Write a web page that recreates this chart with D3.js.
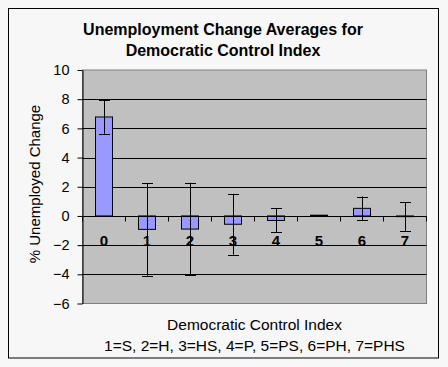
<!DOCTYPE html>
<html><head><meta charset="utf-8">
<script src="https://cdn.jsdelivr.net/npm/d3@7/dist/d3.min.js"></script>
<style>
html,body{margin:0;padding:0;background:#f7f7f7;}
svg{display:block;font-family:"Liberation Sans",Arial,sans-serif;}
</style></head><body>
<svg id="c" width="448" height="367"></svg>
<script>
const categories = ["0","1","2","3","4","5","6","7"];
const values = [6.78, -0.92, -0.90, -0.57, -0.31, 0.05, 0.52, -0.05];
const errors = [1.15, 3.17, 3.17, 2.08, 0.82, 0, 0.81, 0.98];
const yTicks = [-6,-4,-2,0,2,4,6,8,10];
const titleLines = ["Unemployment Change Averages for","Democratic Control Index"];
const xTitleLines = ["Democratic Control Index","1=S, 2=H, 3=HS, 4=P, 5=PS, 6=PH, 7=PHS"];
const yTitle = "% Unemployed Change";

const svg = d3.select("#c");
const L = 82.5, R = 426.5, T = 70, B = 303.5;

svg.append("rect").attr("x",8.5).attr("y",8.5).attr("width",430).attr("height",349.5)
  .attr("fill","#f7f7f7").attr("stroke","#000").attr("stroke-width",1);

const x = d3.scaleBand().domain(categories).range([L,R]).paddingInner(0).paddingOuter(0);
const y = d3.scaleLinear().domain([-6,10]).range([B,T]);

svg.append("rect").attr("x",L).attr("y",T).attr("width",R-L).attr("height",B-T)
  .attr("fill","#c0c0c0").attr("stroke","#808080").attr("stroke-width",1);

// gridlines
svg.append("g").selectAll("line").data(yTicks.filter(d=>d!==-6 && d!==10)).join("line")
  .attr("x1",L).attr("x2",R).attr("y1",d=>Math.round(y(d))+0.5).attr("y2",d=>Math.round(y(d))+0.5)
  .attr("stroke","#000").attr("stroke-width",1);

// y axis
const ya = svg.append("g").attr("transform",`translate(${L},0)`)
  .call(d3.axisLeft(y).tickValues(yTicks).tickSize(5).tickPadding(8).tickSizeOuter(0));
ya.select(".domain").attr("stroke","#000");
ya.selectAll(".tick line").attr("stroke","#000");
ya.selectAll(".tick text").attr("font-size",14.5).attr("fill","#000")
  .attr("font-family","'Liberation Sans',Arial,sans-serif");

// bars
const bw = 17;
svg.append("g").selectAll("rect").data(values).join("rect")
  .attr("x",(d,i)=>x(categories[i])+x.bandwidth()/2-bw/2)
  .attr("width",bw)
  .attr("y",d=>y(Math.max(0,d)))
  .attr("height",d=>Math.abs(y(d)-y(0)))
  .attr("fill","#9999ff").attr("stroke","#000").attr("stroke-width",1);

// x axis at zero
const y0 = Math.round(y(0))+0.5;
svg.append("line").attr("x1",L).attr("x2",R).attr("y1",y0).attr("y2",y0).attr("stroke","#000");
const bounds = d3.range(categories.length+1).map(i=>L+i*x.bandwidth());
svg.append("g").selectAll("line").data(bounds).join("line")
  .attr("x1",d=>d).attr("x2",d=>d).attr("y1",y0).attr("y2",y0+5).attr("stroke","#000");

// error bars
const cap = 11;
const eg = svg.append("g").attr("stroke","#000").attr("stroke-width",1);
values.forEach((v,i)=>{
  if(!errors[i]) return;
  const cx = Math.round(x(categories[i])+x.bandwidth()/2)+0.5;
  eg.append("line").attr("x1",cx).attr("x2",cx).attr("y1",y(v+errors[i])).attr("y2",y(v-errors[i]));
  [v+errors[i], v-errors[i]].forEach(e=>{
    eg.append("line").attr("x1",cx-cap/2).attr("x2",cx+cap/2).attr("y1",Math.round(y(e))+0.5).attr("y2",Math.round(y(e))+0.5);
  });
});

// category labels
svg.append("g").selectAll("text").data(categories).join("text")
  .attr("x",d=>x(d)+x.bandwidth()/2).attr("y",246)
  .attr("text-anchor","middle").attr("font-size",15).attr("font-weight","bold").text(d=>d);

// title
svg.append("g").selectAll("text").data(titleLines).join("text")
  .attr("x",223).attr("y",(d,i)=>35+i*20.5).attr("text-anchor","middle")
  .attr("font-size",16).attr("font-weight","bold").text(d=>d);

// x title
svg.append("g").selectAll("text").data(xTitleLines).join("text")
  .attr("x",254.5).attr("y",(d,i)=>329.5+i*21).attr("text-anchor","middle")
  .attr("font-size",15.5).text(d=>d);

// y title
svg.append("text").attr("transform",`translate(39.5,184) rotate(-90)`)
  .attr("text-anchor","middle").attr("font-size",15).text(yTitle);
</script>
</body></html>
